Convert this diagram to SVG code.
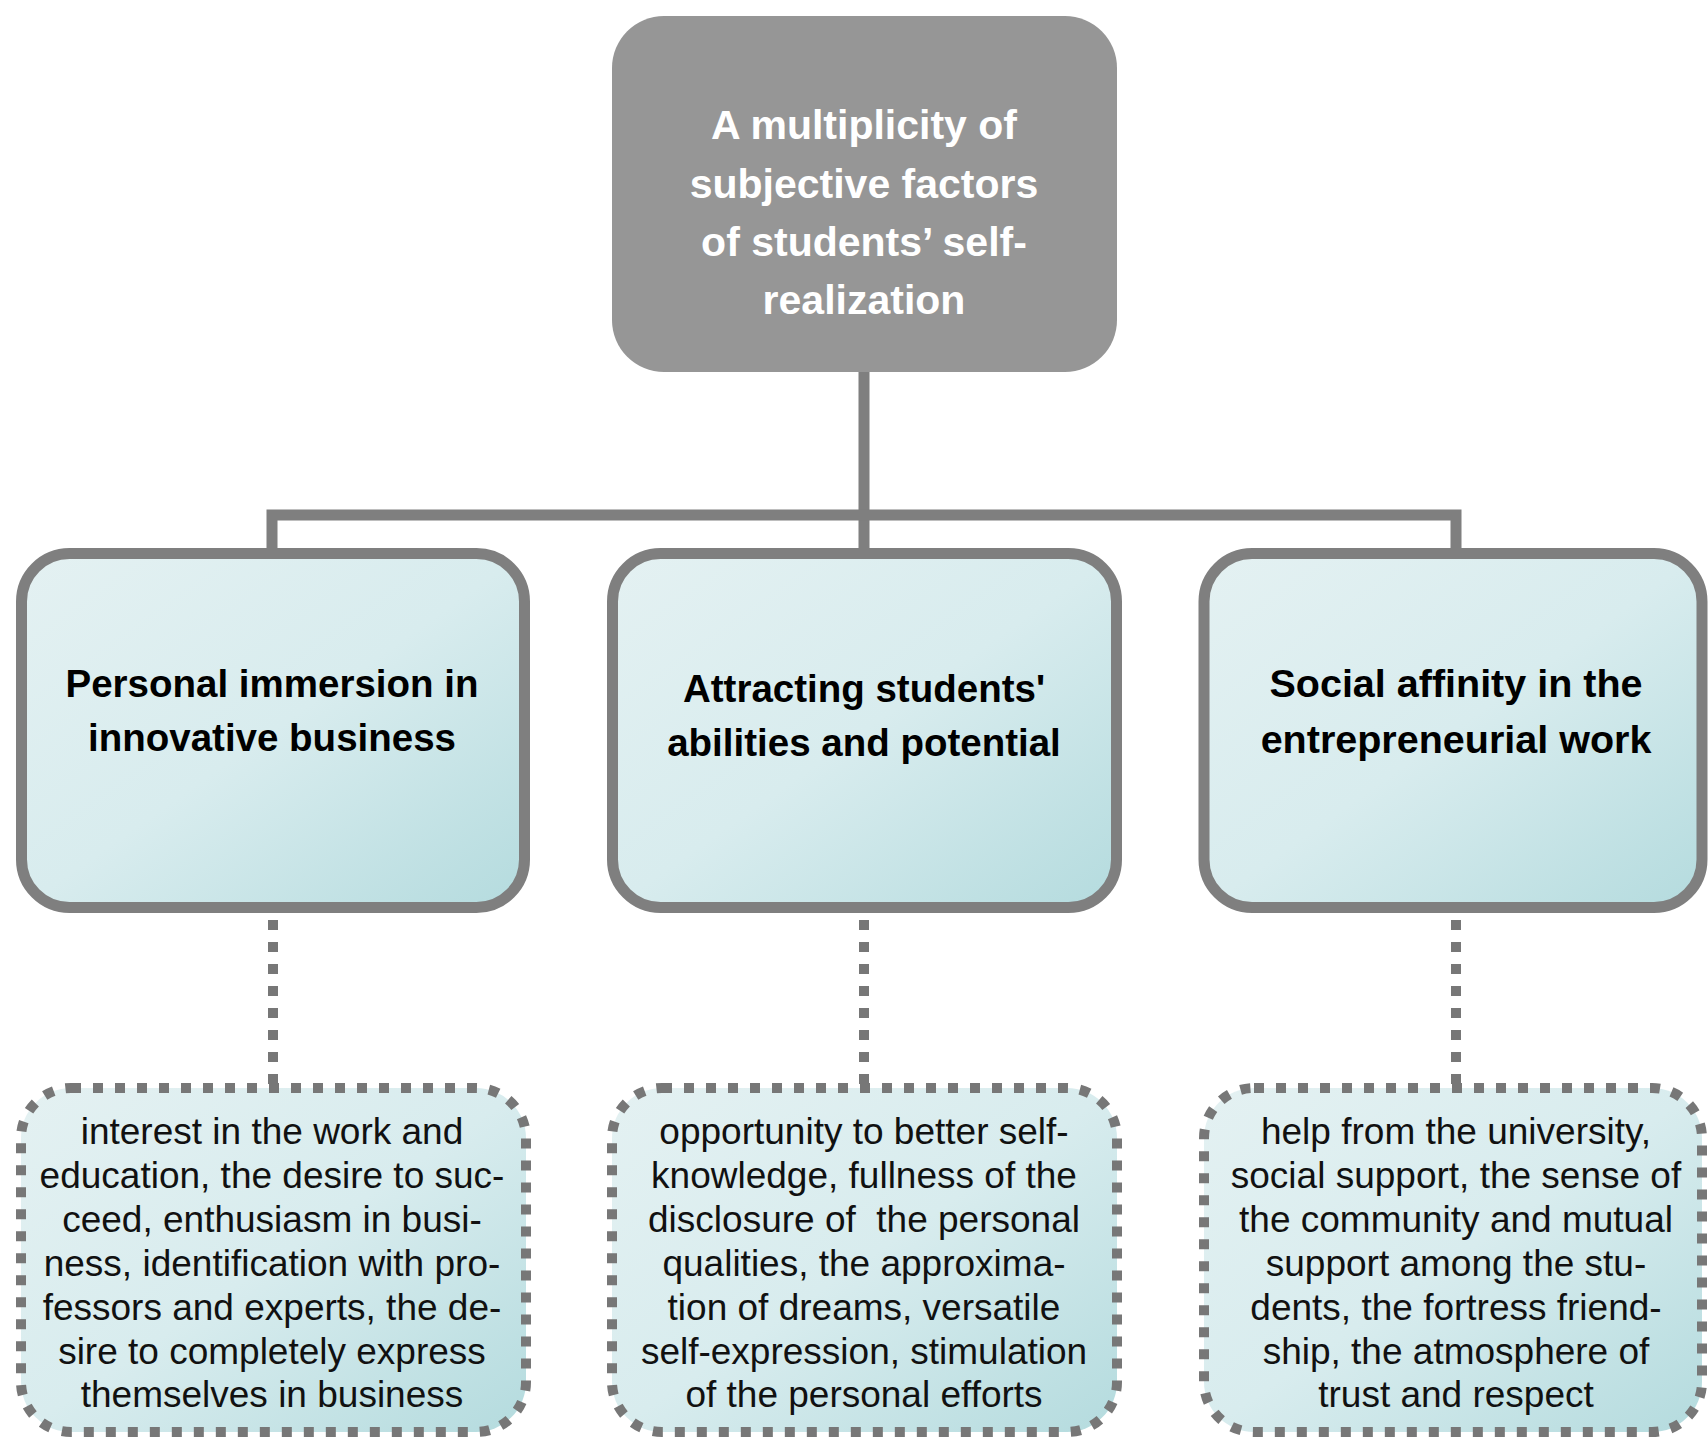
<svg xmlns="http://www.w3.org/2000/svg" width="1708" height="1439" viewBox="0 0 1708 1439">
<style>
.root{fill:#969696}
.rootText{font-family:"Liberation Sans",Arial,sans-serif;font-weight:bold;font-size:41px;fill:#ffffff;text-anchor:middle}
.mid{fill:url(#teal);stroke:#7f7f7f;stroke-width:11}
.midText{font-family:"Liberation Sans",Arial,sans-serif;font-weight:bold;font-size:38.5px;fill:#000000;text-anchor:middle}
.leaf{fill:url(#teal);stroke:#777777;stroke-width:10;stroke-dasharray:10 12}
.leafText{font-family:"Liberation Sans",Arial,sans-serif;font-size:37px;fill:#111111;text-anchor:middle}
.solid{fill:none;stroke:#7f7f7f;stroke-width:11}
.dotted{fill:none;stroke:#777777;stroke-width:10;stroke-dasharray:10 12}
</style>
<defs>
<linearGradient id="teal" x1="0" y1="0" x2="1" y2="1">
<stop offset="0" stop-color="#e4f1f2"/>
<stop offset="0.5" stop-color="#d8ecee"/>
<stop offset="1" stop-color="#b4dbde"/>
</linearGradient>
</defs>
<rect width="1708" height="1439" fill="#ffffff"/>
<g id="connectors">
<path class="solid" d="M864,372 V550"/>
<path class="solid" d="M272,550 V515 H1456 V550"/>
<path class="dotted" d="M273,920 V1086"/>
<path class="dotted" d="M864,920 V1086"/>
<path class="dotted" d="M1456,920 V1086"/>
</g>
<g id="root">
<rect class="root" x="612" y="16" width="505" height="356" rx="52"/>
<text class="rootText" x="864" y="139">A multiplicity of</text>
<text class="rootText" x="864" y="198">subjective factors</text>
<text class="rootText" x="864" y="256">of students’ self-</text>
<text class="rootText" x="864" y="314">realization</text>
</g>
<g id="personal">
<rect class="mid" x="21.5" y="553.5" width="503" height="354" rx="48"/>
<text class="midText" x="272" y="697">Personal immersion in</text>
<text class="midText" x="272" y="751">innovative business</text>
</g>
<g id="attracting">
<rect class="mid" x="612.5" y="553.5" width="504" height="354" rx="48"/>
<text class="midText" x="864" y="702">Attracting students'</text>
<text class="midText" x="864" y="756">abilities and potential</text>
</g>
<g id="social">
<rect class="mid" x="1204" y="553.5" width="498" height="354" rx="48"/>
<text class="midText" x="1456" y="697" style="font-size:39.5px">Social affinity in the</text>
<text class="midText" x="1456" y="753" style="font-size:39.5px">entrepreneurial work</text>
</g>
<g id="personal-details">
<rect class="leaf" x="21" y="1088" width="505" height="344" rx="50"/>
<text class="leafText" x="272" y="1144">interest in the work and</text>
<text class="leafText" x="272" y="1188">education, the desire to suc-</text>
<text class="leafText" x="272" y="1232">ceed, enthusiasm in busi-</text>
<text class="leafText" x="272" y="1276">ness, identification with pro-</text>
<text class="leafText" x="272" y="1320">fessors and experts, the de-</text>
<text class="leafText" x="272" y="1364">sire to completely express</text>
<text class="leafText" x="272" y="1407">themselves in business</text>
</g>
<g id="attracting-details">
<rect class="leaf" x="612" y="1088" width="505" height="344" rx="50"/>
<text class="leafText" x="864" y="1144">opportunity to better self-</text>
<text class="leafText" x="864" y="1188">knowledge, fullness of the</text>
<text class="leafText" x="864" y="1232" xml:space="preserve">disclosure of  the personal</text>
<text class="leafText" x="864" y="1276">qualities, the approxima-</text>
<text class="leafText" x="864" y="1320">tion of dreams, versatile</text>
<text class="leafText" x="864" y="1364">self-expression, stimulation</text>
<text class="leafText" x="864" y="1407">of the personal efforts</text>
</g>
<g id="social-details">
<rect class="leaf" x="1204" y="1088" width="498" height="344" rx="50"/>
<text class="leafText" x="1456" y="1144">help from the university,</text>
<text class="leafText" x="1456" y="1188">social support, the sense of</text>
<text class="leafText" x="1456" y="1232">the community and mutual</text>
<text class="leafText" x="1456" y="1276">support among the stu-</text>
<text class="leafText" x="1456" y="1320">dents, the fortress friend-</text>
<text class="leafText" x="1456" y="1364">ship, the atmosphere of</text>
<text class="leafText" x="1456" y="1407">trust and respect</text>
</g>
</svg>
